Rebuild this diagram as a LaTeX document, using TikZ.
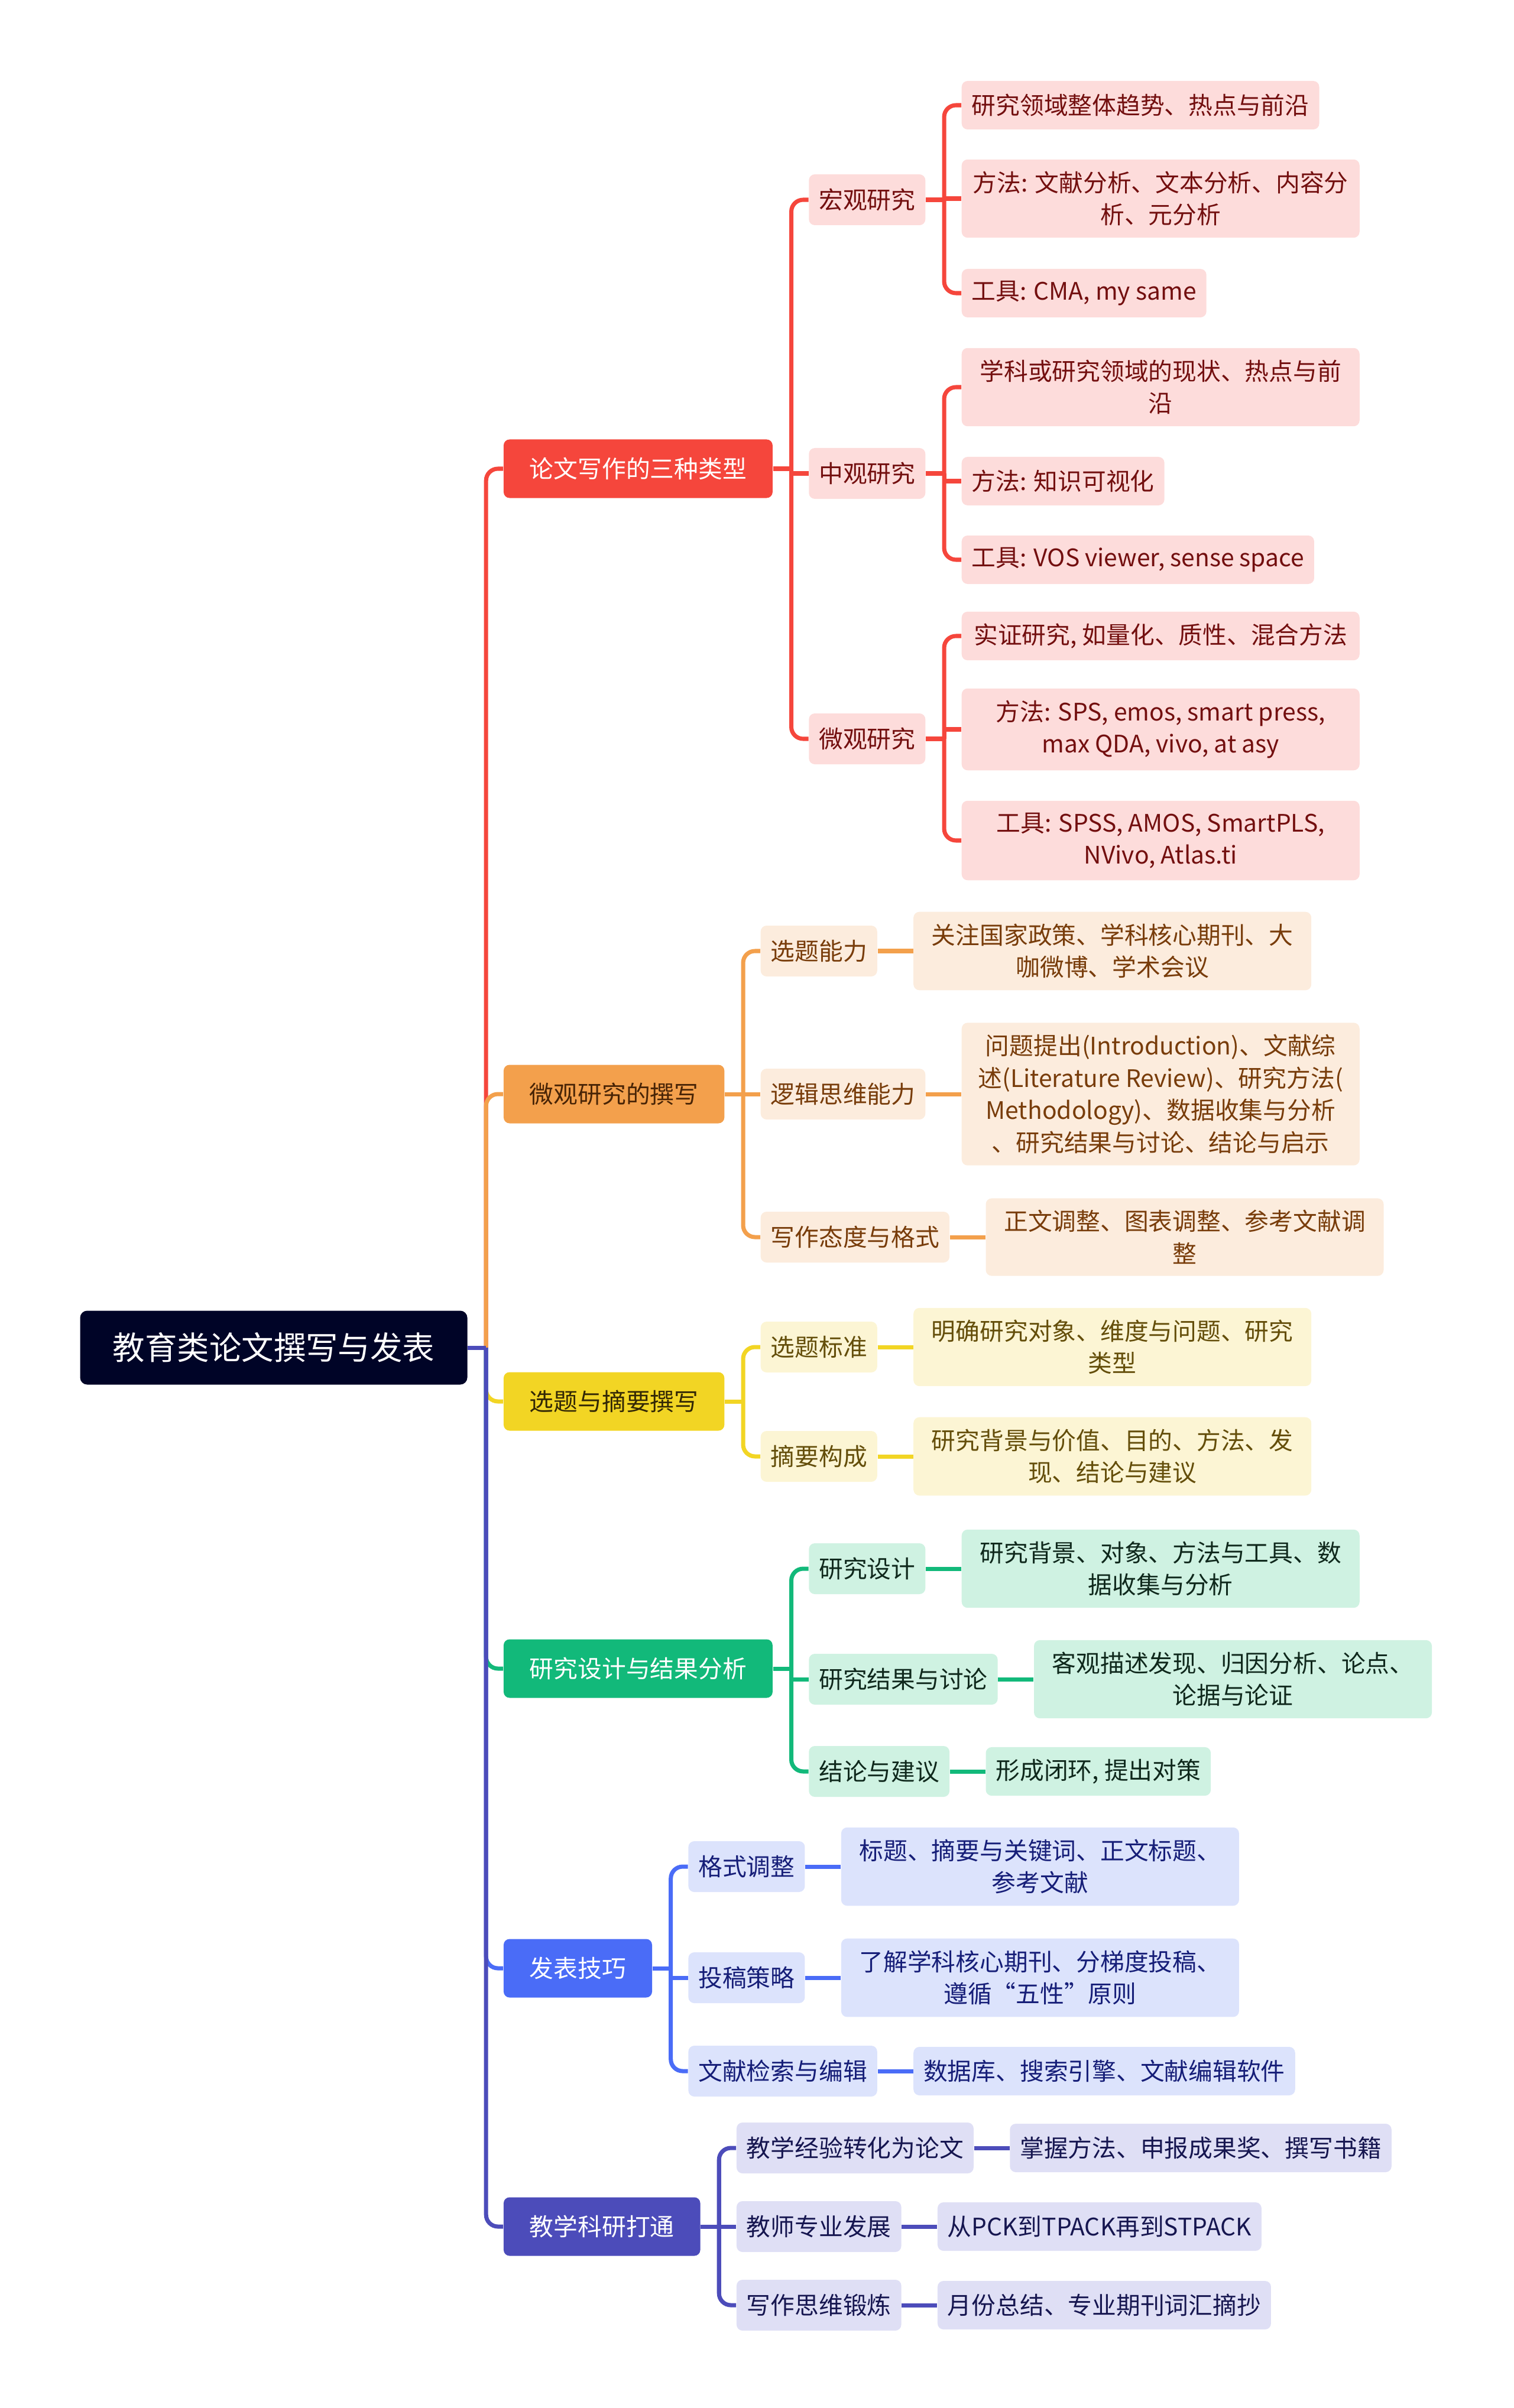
\documentclass[tikz,border=0pt]{standalone}
\usepackage{fontspec}
\setmainfont{Noto Sans CJK SC}
\definecolor{rootdark}{RGB}{0,4,39}
\definecolor{redmain}{RGB}{245,70,60}
\definecolor{redlight}{RGB}{253,220,219}
\definecolor{redtext}{RGB}{115,15,15}
\definecolor{orangemain}{RGB}{243,160,76}
\definecolor{orangelight}{RGB}{252,236,221}
\definecolor{orangetext}{RGB}{120,60,10}
\definecolor{yellowmain}{RGB}{242,213,36}
\definecolor{yellowlight}{RGB}{252,245,212}
\definecolor{yellowtext}{RGB}{100,78,10}
\definecolor{greenmain}{RGB}{18,185,122}
\definecolor{greenlight}{RGB}{207,242,226}
\definecolor{greentext}{RGB}{15,40,28}
\definecolor{bluemain}{RGB}{74,108,247}
\definecolor{bluelight}{RGB}{220,227,252}
\definecolor{bluetext}{RGB}{22,30,120}
\definecolor{indigomain}{RGB}{76,76,186}
\definecolor{indigolight}{RGB}{223,223,245}
\definecolor{indigotext}{RGB}{22,22,80}
\usetikzlibrary{positioning,calc}
\newcommand{\nodefont}{\fontsize{11.6}{15.5}\selectfont}

\begin{document}
\begin{tikzpicture}[
        box/.style={rectangle, rounded corners=0.1cm, align=center,
                    inner ysep=0.2cm, font=\nodefont},
        rootbox/.style={box, fill=rootdark, text=white,
                    minimum width=6.55cm, minimum height=1.25cm,
                    rounded corners=0.12cm, font=\fontsize{15.5}{18}\selectfont},
        topic/.style={box, fill=#1main, text=white,
                    inner xsep=0.44cm, minimum height=0.99cm},
        sub/.style={box, fill=#1light, text=#1text,
                    inner xsep=0.17cm, minimum height=0.86cm},
        leaf/.style={box, fill=#1light, text=#1text,
                    inner xsep=0.17cm, minimum height=0.82cm},
        wide/.style={minimum width=6.73cm},
        link/.style={draw=#1, line width=2pt, rounded corners=0.2cm},
        jog/.style={sharp corners}
    ]
        \useasboundingbox (0,0) rectangle (25.6,-40.74);

        \node[rootbox] (root) at (4.63,-22.80) {教育类论文撰写与发表};

        \node[topic=red,    right=0.6cm of root, yshift= 14.87cm] (types)    {论文写作的三种类型};
        \node[topic=orange, right=0.6cm of root, yshift=  4.29cm,
              text=orangetext!60!black] (micwrite) {微观研究的撰写};
        \node[topic=yellow, right=0.6cm of root, yshift= -0.91cm,
              text=yellowtext!50!black] (abstract) {选题与摘要撰写};
        \node[topic=green,  right=0.6cm of root, yshift= -5.43cm] (design)   {研究设计与结果分析};
        \node[topic=blue,   right=0.6cm of root, yshift=-10.50cm] (publish)  {发表技巧};
        \node[topic=indigo, right=0.6cm of root, yshift=-14.87cm] (teach)    {教学科研打通};

        % three kinds of papers
        \node[sub=red, right=0.6cm of types, yshift= 4.55cm] (macro) {宏观研究};
        \node[sub=red, right=0.6cm of types, yshift=-0.08cm] (meso)  {中观研究};
        \node[sub=red, right=0.6cm of types, yshift=-4.57cm] (micro) {微观研究};

        \node[leaf=red, right=0.6cm of macro, yshift= 1.60cm] (macroA) {研究领域整体趋势、热点与前沿};
        \node[leaf=red, wide, right=0.6cm of macro, yshift= 0.02cm] (macroB) {方法: 文献分析、文本分析、内容分\\析、元分析};
        \node[leaf=red, right=0.6cm of macro, yshift=-1.58cm] (macroC) {工具: CMA, my same};
        \node[leaf=red, wide, right=0.6cm of meso, yshift= 1.46cm] (mesoA) {学科或研究领域的现状、热点与前\\沿};
        \node[leaf=red, right=0.6cm of meso, yshift=-0.13cm] (mesoB) {方法: 知识可视化};
        \node[leaf=red, right=0.6cm of meso, yshift=-1.46cm] (mesoC) {工具: VOS viewer, sense space};
        \node[leaf=red, wide, right=0.6cm of micro, yshift= 1.74cm] (microA) {实证研究, 如量化、质性、混合方法};
        \node[leaf=red, wide, right=0.6cm of micro, yshift= 0.16cm] (microB) {方法: SPS, emos, smart press,\\max QDA, vivo, at asy};
        \node[leaf=red, wide, right=0.6cm of micro, yshift=-1.72cm] (microC) {工具: SPSS, AMOS, SmartPLS,\\NVivo, Atlas.ti};

        % writing
        \node[sub=orange, right=0.6cm of micwrite, yshift= 2.42cm] (choose)   {选题能力};
        \node[sub=orange, right=0.6cm of micwrite]                 (logic)    {逻辑思维能力};
        \node[sub=orange, right=0.6cm of micwrite, yshift=-2.42cm] (attitude) {写作态度与格式};
        \node[leaf=orange, wide, right=0.6cm of choose]   (chooseL)   {关注国家政策、学科核心期刊、大\\咖微博、学术会议};
        \node[leaf=orange, wide, right=0.6cm of logic]    (logicL)    {问题提出(Introduction)、文献综\\述(Literature Review)、研究方法(\\Methodology)、数据收集与分析\\、研究结果与讨论、结论与启示};
        \node[leaf=orange, wide, right=0.6cm of attitude] (attitudeL) {正文调整、图表调整、参考文献调\\整};

        % abstract
        \node[sub=yellow, right=0.6cm of abstract, yshift= 0.92cm] (standard) {选题标准};
        \node[sub=yellow, right=0.6cm of abstract, yshift=-0.93cm] (compose)  {摘要构成};
        \node[leaf=yellow, wide, right=0.6cm of standard] (standardL) {明确研究对象、维度与问题、研究\\类型};
        \node[leaf=yellow, wide, right=0.6cm of compose]  (composeL)  {研究背景与价值、目的、方法、发\\现、结论与建议};

        % design and results
        \node[sub=green, right=0.6cm of design, yshift= 1.69cm] (plan)   {研究设计};
        \node[sub=green, right=0.6cm of design, yshift=-0.18cm] (result) {研究结果与讨论};
        \node[sub=green, right=0.6cm of design, yshift=-1.74cm] (concl)  {结论与建议};
        \node[leaf=green, wide, right=0.6cm of plan]   (planL)   {研究背景、对象、方法与工具、数\\据收集与分析};
        \node[leaf=green, wide, right=0.6cm of result] (resultL) {客观描述发现、归因分析、论点、\\论据与论证};
        \node[leaf=green, right=0.6cm of concl]        (conclL)  {形成闭环, 提出对策};

        % publishing
        \node[sub=blue, right=0.6cm of publish, yshift= 1.72cm] (format) {格式调整};
        \node[sub=blue, right=0.6cm of publish, yshift=-0.16cm] (submit) {投稿策略};
        \node[sub=blue, right=0.6cm of publish, yshift=-1.74cm] (search) {文献检索与编辑};
        \node[leaf=blue, wide, right=0.6cm of format] (formatL) {标题、摘要与关键词、正文标题、\\参考文献};
        \node[leaf=blue, wide, right=0.6cm of submit] (submitL) {了解学科核心期刊、分梯度投稿、\\遵循“五性”原则};
        \node[leaf=blue, right=0.6cm of search]       (searchL) {数据库、搜索引擎、文献编辑软件};

        % teaching and research
        \node[sub=indigo, right=0.6cm of teach, yshift= 1.33cm] (exper) {教学经验转化为论文};
        \node[sub=indigo, right=0.6cm of teach]                 (prof)  {教师专业发展};
        \node[sub=indigo, right=0.6cm of teach, yshift=-1.33cm] (think) {写作思维锻炼};
        \node[leaf=indigo, right=0.6cm of exper] (experL) {掌握方法、申报成果奖、撰写书籍};
        \node[leaf=indigo, right=0.6cm of prof]  (profL)  {从PCK到TPACK再到STPACK};
        \node[leaf=indigo, right=0.6cm of think] (thinkL) {月份总结、专业期刊词汇摘抄};

        % trunk: stub out of the root, then one bend per topic
        \foreach \t/\c in {types/redmain, micwrite/orangemain, abstract/yellowmain,
                           design/greenmain, publish/bluemain, teach/indigomain}{
            \draw[link=\c] (root.east) -- ++(0.31,0);
            \draw[link=\c] ($(root.east)+(0.31,0)$) |- (\t.west);
        }

        % side branches bend, middle ones only jog
        \foreach \p in {types,macro,meso,micro}
            \draw[link=redmain] (\p.east) -- ++(0.31,0);
        \foreach \p/\c in {types/macro, types/micro,
                           macro/macroA, macro/macroC, meso/mesoA, meso/mesoC,
                           micro/microA, micro/microC}
            \draw[link=redmain] ($(\p.east)+(0.31,0)$) |- (\c.west);
        \foreach \p/\c in {types/meso, macro/macroB, meso/mesoB, micro/microB}
            \draw[link=redmain, jog] ($(\p.east)+(0.31,0)$) |- (\c.west);

        \draw[link=orangemain] (micwrite.east) -- (logic.west);
        \foreach \c in {choose,attitude}
            \draw[link=orangemain] ($(micwrite.east)+(0.31,0)$) |- (\c.west);
        \draw[link=yellowmain] (abstract.east) -- ++(0.31,0);
        \foreach \c in {standard,compose}
            \draw[link=yellowmain] ($(abstract.east)+(0.31,0)$) |- (\c.west);
        \draw[link=greenmain] (design.east) -- ++(0.31,0);
        \foreach \c in {plan,concl}
            \draw[link=greenmain] ($(design.east)+(0.31,0)$) |- (\c.west);
        \draw[link=greenmain, jog] ($(design.east)+(0.31,0)$) |- (result.west);
        \draw[link=bluemain] (publish.east) -- ++(0.31,0);
        \foreach \c in {format,search}
            \draw[link=bluemain] ($(publish.east)+(0.31,0)$) |- (\c.west);
        \draw[link=bluemain, jog] ($(publish.east)+(0.31,0)$) |- (submit.west);
        \draw[link=indigomain] (teach.east) -- (prof.west);
        \foreach \c in {exper,think}
            \draw[link=indigomain] ($(teach.east)+(0.31,0)$) |- (\c.west);

        \foreach \c in {choose,logic,attitude}
            \draw[link=orangemain] (\c.east) -- (\c L.west);
        \foreach \c in {standard,compose}
            \draw[link=yellowmain] (\c.east) -- (\c L.west);
        \foreach \c in {plan,result,concl}
            \draw[link=greenmain] (\c.east) -- (\c L.west);
        \foreach \c in {format,submit,search}
            \draw[link=bluemain] (\c.east) -- (\c L.west);
        \foreach \c in {exper,prof,think}
            \draw[link=indigomain] (\c.east) -- (\c L.west);
    \end{tikzpicture}
\end{document}
